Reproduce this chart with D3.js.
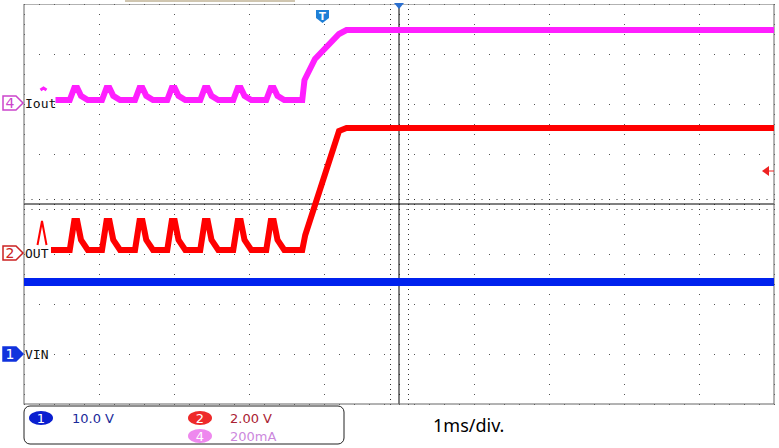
<!DOCTYPE html>
<html><head><meta charset="utf-8">
<script src="https://cdn.jsdelivr.net/npm/d3@7"></script>
<style>body{margin:0;background:#fff}svg{display:block}</style>
</head><body>
<svg id="c" width="779" height="448"></svg>
<script>
// time in ms, value in divisions (0 = centre)
const peakTimes = [-4.31,-3.88,-3.44,-3.01,-2.57,-2.13,-1.69];
const ioutBase = 2.08, ioutPeak = 2.32, ioutFlat = 3.48;
const outBase = -0.92, outPeak = -0.34, outFlat = 1.52;
const vinLevel = -1.56;
const ioutRise = [[-1.29,2.08],[-1.26,2.48],[-1.12,2.90],[-0.80,3.40],[-0.70,3.48],[5,3.48]];
const outRise = [[-1.29,-0.92],[-1.25,-0.62],[-1.12,-0.02],[-0.80,1.46],[-0.70,1.52],[5,1.52]];
const legendScales = [{ch:"1",txt:"10.0 V"},{ch:"2",txt:"2.00 V"},{ch:"4",txt:"200mA"}];

const svg = d3.select("#c");
const x = d3.scaleLinear().domain([-5,5]).range([24,774]);
const y = d3.scaleLinear().domain([-4,4]).range([404,4]);

const g = svg.append("g");
for (let i=-5;i<=5;i++) for (let j=-40;j<=40;j+=2) g.append("rect").attr("x",x(i)).attr("y",y(j/10)).attr("width",1).attr("height",1).attr("fill","#555");
for (let j=-4;j<=4;j++) for (let i=-50;i<=50;i+=2) g.append("rect").attr("x",x(i/10)).attr("y",y(j)).attr("width",1).attr("height",1).attr("fill","#555");
for (let i=-50;i<=50;i++) {[ -0.1,0.1].forEach(d=>g.append("rect").attr("x",x(i/10)).attr("y",y(d)).attr("width",1).attr("height",1).attr("fill","#333"));}
for (let j=-40;j<=40;j++) {[ -0.12,0.12].forEach(d=>g.append("rect").attr("x",x(d)).attr("y",y(j/10)).attr("width",1).attr("height",1).attr("fill","#333"));}
g.append("line").attr("x1",x(-5)).attr("x2",x(5)).attr("y1",y(0)).attr("y2",y(0)).attr("stroke","#000");
g.append("line").attr("x1",x(0)).attr("x2",x(0)).attr("y1",y(-4)).attr("y2",y(4)).attr("stroke","#000");
svg.append("rect").attr("x",24).attr("y",4).attr("width",750).attr("height",400).attr("fill","none").attr("stroke","#666");
svg.append("rect").attr("x",0).attr("y",0).attr("width",779).attr("height",4).attr("fill","#fff");
svg.append("line").attr("x1",125).attr("x2",295).attr("y1",1).attr("y2",1).attr("stroke","#a08c60");

function build(base, peak, startT, rise){
  const pts=[[startT,base]];
  peakTimes.forEach(t=>{pts.push([t-0.08,base],[t-0.02,peak],[t+0.02,peak],[t+0.07,base+(peak-base)*0.35],[t+0.16,base]);});
  return pts.concat(rise);
}
const line = d3.line().x(d=>x(d[0])).y(d=>y(d[1]));
const iout = build(ioutBase, ioutPeak, -4.58, ioutRise);
const out = build(outBase, outPeak, -4.64, outRise);
svg.append("path").attr("d",line(iout)).attr("fill","none").attr("stroke","#ff1fff").attr("stroke-width",6);
svg.append("path").attr("d",line(out)).attr("fill","none").attr("stroke","#ff0000").attr("stroke-width",6);
svg.append("path").attr("d",line([[-4.78,ioutBase+0.2],[-4.74,ioutPeak],[-4.70,ioutBase+0.2]])).attr("fill","#ff1fff").attr("stroke","#ff1fff").attr("stroke-width",3);
svg.append("path").attr("d",line([[-4.82,outBase+0.1],[-4.76,outPeak],[-4.70,outBase+0.1]])).attr("fill","none").attr("stroke","#ff0000").attr("stroke-width",2);
svg.append("path").attr("d",line([[-5,vinLevel],[5,vinLevel]])).attr("stroke","#0022ee").attr("stroke-width",8);

function marker(ch, yv, col, filled){
  const yy=y(yv), m=svg.append("g");
  m.append("path").attr("d",`M3,${yy-7}H16L23,${yy}L16,${yy+7}H3Z`).attr("fill",filled?col:"#fff").attr("stroke",col).attr("stroke-width",1.5);
  m.append("text").attr("x",10).attr("y",yy+5).attr("text-anchor","middle").attr("font-family","DejaVu Sans").attr("font-size",14).attr("fill",filled?"#fff":col).text(ch);
}
marker("4",ioutBase-0.06,"#cc44cc",false);
marker("2",outBase-0.06,"#cc2222",false);
marker("1",-3,"#1133dd",true);
const lab=[["Iout",ioutBase-0.06],["OUT",outBase-0.06],["VIN",-3]];
lab.forEach(l=>svg.append("text").attr("x",25).attr("y",y(l[1])+5).attr("font-family","DejaVu Sans Mono").attr("font-size",13).attr("fill","#111").text(l[0]));

svg.append("path").attr("d","M316,10h13v8l-6.5,5l-6.5,-5z").attr("fill","#1f7fd6");
svg.append("text").attr("x",322.5).attr("y",20).attr("text-anchor","middle").attr("font-family","DejaVu Sans").attr("font-weight","bold").attr("font-size",10).attr("fill","#fff").text("T");
svg.append("path").attr("d",`M${x(0)-5},3h10l-5,6z`).attr("fill","#2a6fd0");
svg.append("path").attr("d","M762,171l7,-5v10z").attr("fill","#ee2222");
svg.append("line").attr("x1",768).attr("x2",774).attr("y1",171).attr("y2",171).attr("stroke","#ee2222");

svg.append("rect").attr("x",24).attr("y",406).attr("width",320).attr("height",38).attr("rx",6).attr("fill","#fff").attr("stroke","#222");
const lp=[{cx:41,cy:418,col:"#0a1fd0",tx:72,tc:"#1a2a9a"},{cx:200,cy:418,col:"#ee2a2a",tx:230,tc:"#aa2233"},{cx:200,cy:436,col:"#ee88ee",tx:230,tc:"#cc88dd"}];
legendScales.forEach((s,i)=>{const p=lp[i];
  svg.append("ellipse").attr("cx",p.cx).attr("cy",p.cy).attr("rx",12).attr("ry",7).attr("fill",p.col);
  svg.append("text").attr("x",p.cx).attr("y",p.cy+5).attr("text-anchor","middle").attr("font-family","DejaVu Sans").attr("font-size",13).attr("fill","#fff").text(s.ch);
  svg.append("text").attr("x",p.tx).attr("y",p.cy+5).attr("font-family","DejaVu Sans").attr("font-size",13).attr("fill",p.tc).text(s.txt);
});
svg.append("text").attr("x",433).attr("y",432).attr("font-family","Noto Sans").attr("font-size",18).attr("fill","#000").text("1ms/div.");
</script>
</body></html>
